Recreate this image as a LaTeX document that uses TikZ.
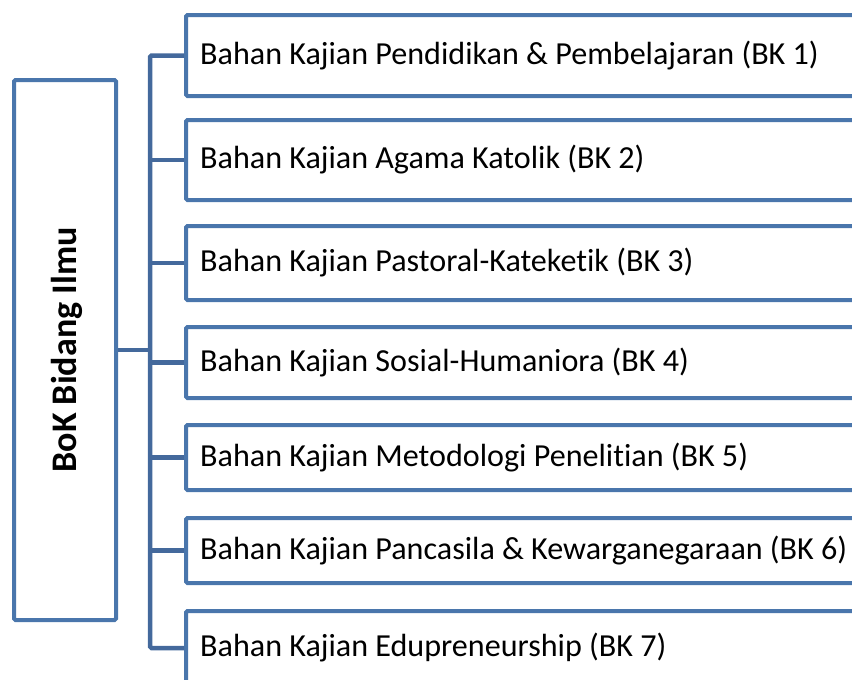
\documentclass[tikz,border=0pt]{standalone}
\usepackage{fontspec}
\setmainfont{Carlito}[Ligatures=NoCommon]
\definecolor{boxblue}{HTML}{4A76AC}
\definecolor{connblue}{HTML}{44699C}
\begin{document}
\begin{tikzpicture}[x=1pt,y=-1pt,
  kbox/.style={draw=boxblue, line width=4pt, rounded corners=1.5pt, fill=white,
    anchor=west, minimum width=700pt, inner sep=0pt},
  klabel/.style={anchor=west, inner sep=0pt, font=\fontsize{32.1}{36}\selectfont},
  rootbox/.style={draw=boxblue, line width=4pt, rounded corners=1.5pt, fill=white,
    minimum width=102pt, minimum height=540pt, inner sep=0pt},
  conn/.style={draw=connblue, line width=4.5pt}]
\useasboundingbox (0,0) rectangle (852,680);
\clip (0,0) rectangle (852,680);
\node[rootbox] (root) at (65,350) {};
\node[rotate=90, font=\bfseries\fontsize{36}{40}\selectfont] (rootlabel) at (67,350) {BoK Bidang Ilmu};
\coordinate (sp) at (150,0);
\draw[conn] (root.east) -- (root.east -| sp);
\node[kbox, minimum height=81pt] (b1) at (184,55.5) {};
\node[kbox, minimum height=80pt] (b2) at (184,160) {};
\node[kbox, minimum height=74pt] (b3) at (184,263) {};
\node[kbox, minimum height=71pt] (b4) at (184,362.5) {};
\node[kbox, minimum height=65pt] (b5) at (184,457.5) {};
\node[kbox, minimum height=65pt] (b6) at (184,550.5) {};
\node[kbox, minimum height=74pt] (b7) at (184,648) {};
\node[klabel] (t1) at ([xshift=16pt]b1.west) {Bahan Kajian Pendidikan \& Pembelajaran (BK 1)};
\node[klabel] (t2) at ([xshift=16pt]b2.west) {Bahan Kajian Agama Katolik (BK 2)};
\node[klabel] (t3) at ([xshift=16pt]b3.west) {Bahan Kajian Pastoral-Kateketik (BK 3)};
\node[klabel] (t4) at ([xshift=16pt]b4.west) {Bahan Kajian Sosial-Humaniora (BK 4)};
\node[klabel] (t5) at ([xshift=16pt]b5.west) {Bahan Kajian Metodologi Penelitian (BK 5)};
\node[klabel] (t6) at ([xshift=16pt]b6.west) {Bahan Kajian Pancasila \& Kewarganegaraan (BK 6)};
\node[klabel] (t7) at ([xshift=16pt]b7.west) {Bahan Kajian Edupreneurship (BK 7)};
\draw[conn, rounded corners=1.5pt] (b1.west) -- (b1.west -| sp) |- (b7.west);
\foreach \b in {b2,b3,b4,b5,b6} \draw[conn] (\b.west) -- (\b.west -| sp);
\end{tikzpicture}
\end{document}
